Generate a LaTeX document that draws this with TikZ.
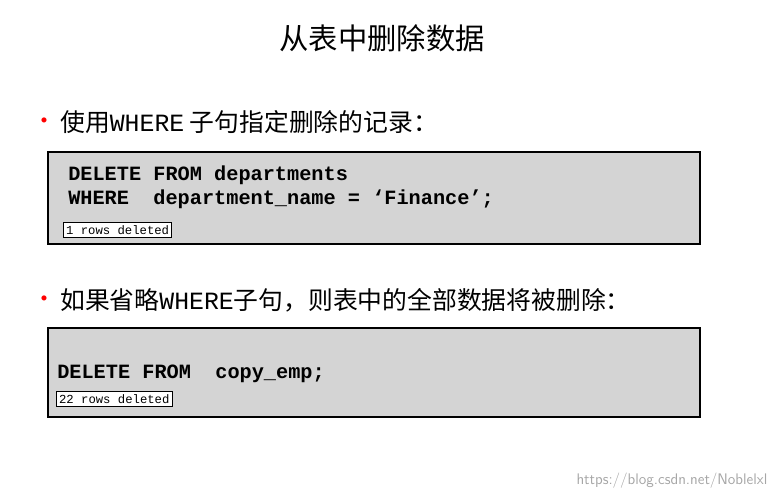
\documentclass[tikz,border=0pt]{standalone}
\usepackage{fontspec}
\setmainfont{Liberation Serif}
\setmonofont{Liberation Mono}
\newfontfamily\cjk{Noto Sans CJK SC}
\definecolor{codegray}{HTML}{D4D4D4}
\tikzset{
  codebox/.style={draw=black, line width=1.2pt, fill=codegray},
  rowsbox/.style={draw=black, line width=0.6pt, fill=white, inner xsep=2pt, inner ysep=2.5pt, font=\ttfamily\fontsize{9.2}{10}\selectfont, anchor=west},
  codeline/.style={anchor=west, inner sep=0pt, font=\ttfamily\bfseries\fontsize{15.2}{17}\selectfont},
  bullettext/.style={anchor=west, inner sep=0pt, font=\cjk\fontsize{18.6}{21}\selectfont}
}
\begin{document}
\begin{tikzpicture}[x=0.75pt,y=-0.75pt]
    \useasboundingbox (0,0) rectangle (776,497);
    % title
    \node[font=\cjk\fontsize{22}{26}\selectfont] (title) at (382,38) {从表中删除数据};

    % first bullet and code box
    \node[text=red, font=\fontsize{16}{18}\selectfont] (dotA) at (44,123) {•};
    \node[bullettext] (textA) at (60,122) {使用{\ttfamily WHERE} 子句指定删除的记录：};
    \draw[codebox] (48,152) rectangle (700,244);
    \node[codeline] (lineA1) at (68,175) {DELETE FROM departments};
    \node[codeline] (lineA2) at (68,199) {WHERE\ \ department\_name = ‘Finance’;};
    \node[rowsbox] (rowsA) at (63,230) {1 rows deleted};

    % second bullet and code box
    \node[text=red, font=\fontsize{16}{18}\selectfont] (dotB) at (44,301) {•};
    \node[bullettext] (textB) at (60,300) {如果省略{\ttfamily WHERE}子句，则表中的全部数据将被删除：};
    \draw[codebox] (48,328) rectangle (700,417);
    \node[codeline] (lineB1) at (57,374) {DELETE FROM\ \ copy\_emp;};
    \node[rowsbox] (rowsB) at (56,399) {22 rows deleted};

    % watermark
    \node[text=black!35, font=\fontsize{11.5}{13}\sffamily\selectfont, anchor=east] (mark) at (772,481) {https://blog.csdn.net/Noblelxl};
\end{tikzpicture}
\end{document}
